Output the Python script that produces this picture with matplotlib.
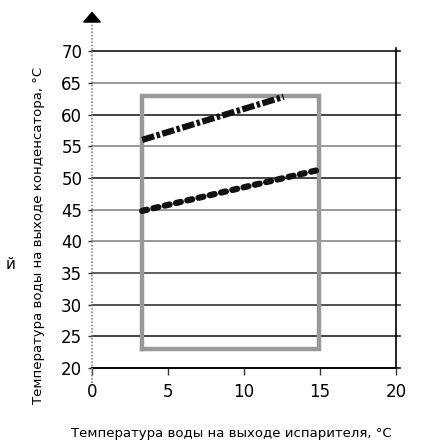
import matplotlib
matplotlib.use('Agg')
import matplotlib.pyplot as plt

# данные
x_ticks = [0, 5, 10, 15, 20]
y_ticks = [20, 25, 30, 35, 40, 45, 50, 55, 60, 65, 70]
grid_colors = ['#111111', '#222222', '#333333', '#444444', '#888888', '#888888',
               '#222222', '#888888', '#222222', '#888888', '#111111']

# рабочая область (прямоугольник)
zona_x = [3.3, 14.9, 14.9, 3.3, 3.3]
zona_y = [23, 23, 63, 63, 23]

# линии
linea1_x = [3.3, 12.6]
linea1_y = [56.0, 62.8]
linea2_x = [3.3, 14.8]
linea2_y = [44.8, 51.2]

plt.rcParams['font.family'] = ['DejaVu Sans']

fig = plt.figure(figsize=(4.32, 4.45), dpi=100)
ax = fig.add_axes([0.213, 0.173, 0.704, 0.712])

# сетка
for yv, c in zip(y_ticks, grid_colors):
    ax.plot([0, 20.25], [yv, yv], color=c, lw=1.2, clip_on=False, zorder=1)

ax.plot(zona_x, zona_y, color='#999999', lw=3.2, solid_joinstyle='miter', zorder=2)
ax.plot(linea1_x, linea1_y, color='#111111', lw=4.5, dashes=(2.0, 0.4, 0.55, 0.4), zorder=3)
ax.plot(linea2_x, linea2_y, color='#111111', lw=4.5, dashes=(0.8, 1.05),
        dash_capstyle='round', zorder=3)

ax.set_xlim(0, 20)
ax.set_ylim(20, 70)
ax.set_xticks(x_ticks)
ax.set_yticks(y_ticks)
ax.set_xticklabels(x_ticks, fontsize=12)
ax.set_yticklabels(y_ticks, fontsize=12)
ax.tick_params(axis='y', length=3, width=1, pad=4, color='#333333')
ax.tick_params(axis='x', length=5, width=1, pad=6, color='#333333')

for s in ['top', 'left']:
    ax.spines[s].set_visible(False)
ax.spines['bottom'].set_linewidth(1.2)
ax.spines['right'].set_linewidth(1.2)
ax.spines['right'].set_bounds(20, 70.5)

# левая ось пунктиром со стрелкой
ax.plot([0, 0], [17.6, 74.6], color='#888888', lw=1.2, ls=(0, (1, 1)), clip_on=False, zorder=4)
ax.fill([-0.55, 0.55, 0], [74.6, 74.6, 76.1], color='black', clip_on=False, zorder=5)

ax.set_ylabel('Температура воды на выходе конденсатора, °C', fontsize=9.5)
ax.set_xlabel('Температура воды на выходе испарителя, °C', fontsize=9.5)
ax.yaxis.set_label_coords(-0.155, 0.42)
ax.xaxis.set_label_coords(0.457, -0.185)
fig.text(0.025, 0.405, 'й', fontsize=11, rotation=0, ha='center', va='center')

fig.savefig('out.png', dpi=100)
